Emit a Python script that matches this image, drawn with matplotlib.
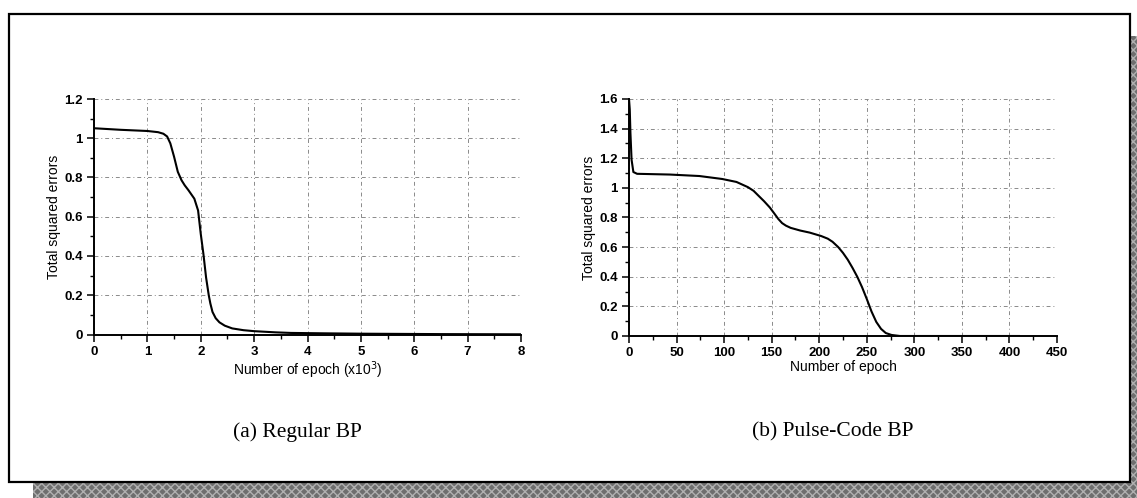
import numpy as np
import matplotlib
matplotlib.use('Agg')
import matplotlib.pyplot as plt
from matplotlib.patches import Rectangle
from matplotlib.ticker import MultipleLocator

# (a) Regular BP -- epochs in thousands
regular_epoch = [0, 0.5, 1.0, 1.2, 1.3, 1.37, 1.43, 1.50, 1.57, 1.64, 1.70, 1.77,
                 1.88, 1.95, 2.0, 2.05, 2.10, 2.15, 2.18, 2.22, 2.28, 2.35, 2.45,
                 2.59, 2.8, 3.0, 3.4, 3.69, 4.3, 5.05, 6.5, 8.0]
regular_err = [1.051, 1.043, 1.037, 1.031, 1.023, 1.009, 0.974, 0.906, 0.829, 0.786,
               0.760, 0.735, 0.692, 0.632, 0.513, 0.41, 0.29, 0.20, 0.158, 0.115,
               0.083, 0.062, 0.045, 0.031, 0.022, 0.017, 0.011, 0.008, 0.006, 0.004,
               0.002, 0.001]

# (b) Pulse-Code BP
pulse_epoch = [0, 0.8, 1.5, 2.7, 4.6, 8.5, 43, 74, 98, 113, 125, 131, 136, 142, 148,
               153, 157, 161, 165, 170, 180, 190, 202, 209, 214, 220, 225, 230, 235,
               240, 245, 250, 255, 260, 265, 270, 276, 285, 410]
pulse_err = [1.60, 1.53, 1.37, 1.19, 1.107, 1.095, 1.09, 1.08, 1.06, 1.04, 1.005,
             0.98, 0.948, 0.91, 0.868, 0.825, 0.79, 0.762, 0.745, 0.73, 0.712,
             0.698, 0.675, 0.657, 0.636, 0.60, 0.561, 0.515, 0.46, 0.40, 0.33,
             0.25, 0.165, 0.095, 0.048, 0.02, 0.007, 0.0, 0.0]

regular_yticks = [0, 0.2, 0.4, 0.6, 0.8, 1.0, 1.2]
regular_ylabels = ['0', '0.2', '0.4', '0.6', '0.8', '1', '1.2']
pulse_yticks = [0, 0.2, 0.4, 0.6, 0.8, 1.0, 1.2, 1.4, 1.6]
pulse_ylabels = ['0', '0.2', '0.4', '0.6', '0.8', '1', '1.2', '1.4', '1.6']

W, H = 1137, 498
fig = plt.figure(figsize=(W / 100, H / 100), dpi=100)
fig.patch.set_facecolor('white')

def px_box(x0, y0, x1, y1):
    # pixel box (top-left origin) -> figure fraction rect
    return [x0 / W, 1 - y1 / H, (x1 - x0) / W, (y1 - y0) / H]

# shadow strips and outer frame, kept behind the axes
shadow = dict(transform=fig.transFigure, facecolor='#6e6e6e', edgecolor='#b0b0b0',
              hatch='xxxx', linewidth=0, zorder=-3)
fig.patches.append(Rectangle((1131 / W, 0), 6 / W, 1 - 36 / H, **shadow))
fig.patches.append(Rectangle((33 / W, 0), (W - 33) / W, (H - 483) / H, **shadow))
fig.patches.append(Rectangle((9 / W, 1 - 482 / H), (1130 - 9) / W, (482 - 14) / H,
                             transform=fig.transFigure, facecolor='white',
                             edgecolor='black', linewidth=1.6, zorder=-2))

label_font = {'family': 'Liberation Sans', 'size': 10}

def style_axes(ax):
    ax.set_facecolor('none')
    for s in ['top', 'right']:
        ax.spines[s].set_visible(False)
    for s in ['left', 'bottom']:
        ax.spines[s].set_linewidth(1.4)
    ax.tick_params(which='major', direction='out', length=5, width=1.1, pad=3)
    ax.tick_params(which='minor', direction='out', length=3, width=1.0)
    ax.grid(True, which='major', color='#8a8a8a', linewidth=0.7,
            linestyle=(0, (4, 3, 1, 3)))
    for lab in ax.get_xticklabels() + ax.get_yticklabels():
        lab.set_fontfamily('Liberation Sans')
        lab.set_fontsize(9.5)
        lab.set_fontweight('bold')

ax1 = fig.add_axes(px_box(94, 99, 521, 334.5))
ax1.plot(regular_epoch, regular_err, color='black', linewidth=1.5,
         solid_joinstyle='round')
ax1.set_xlim(0, 8)
ax1.set_ylim(0, 1.2)
ax1.xaxis.set_major_locator(MultipleLocator(1))
ax1.xaxis.set_minor_locator(MultipleLocator(0.5))
ax1.set_yticks(regular_yticks)
ax1.set_yticklabels(regular_ylabels)
ax1.yaxis.set_minor_locator(MultipleLocator(0.1))
style_axes(ax1)
ax1.set_xlabel('Number of epoch (x10$^3$)', fontdict=label_font, labelpad=1)
ax1.set_ylabel('Total squared errors', fontdict=label_font, labelpad=2)

ax2 = fig.add_axes(px_box(629, 99, 1057, 336))
ax2.plot(pulse_epoch, pulse_err, color='black', linewidth=1.5,
         solid_joinstyle='round')
ax2.set_xlim(0, 450)
ax2.set_ylim(0, 1.6)
ax2.xaxis.set_major_locator(MultipleLocator(50))
ax2.xaxis.set_minor_locator(MultipleLocator(25))
ax2.set_yticks(pulse_yticks)
ax2.set_yticklabels(pulse_ylabels)
ax2.yaxis.set_minor_locator(MultipleLocator(0.1))
style_axes(ax2)
ax2.set_xlabel('Number of epoch', fontdict=label_font, labelpad=1)
ax2.set_ylabel('Total squared errors', fontdict=label_font, labelpad=2)

cap_font = dict(family='Liberation Serif', fontsize=15.5, ha='center', va='center')
fig.text(297 / W, 1 - 432 / H, '(a) Regular BP', **cap_font)
fig.text(833 / W, 1 - 432 / H, '(b) Pulse-Code BP', **cap_font)

fig.savefig('out.png', dpi=100)
